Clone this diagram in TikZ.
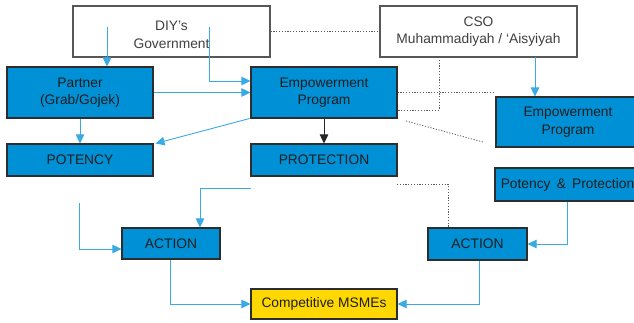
\documentclass[tikz,border=0pt]{standalone}
\usepackage{fontspec}
\setmainfont{Liberation Sans}
\usetikzlibrary{arrows.meta}
\definecolor{boxblue}{RGB}{0,144,214}
\definecolor{lineblue}{RGB}{58,170,228}
\definecolor{boxyellow}{RGB}{255,216,0}
\definecolor{edgegray}{RGB}{45,45,45}
\definecolor{txt}{RGB}{30,30,30}
\definecolor{dotgray}{RGB}{90,90,90}
\tikzset{
  base/.style={draw=edgegray, line width=1.1pt, inner sep=0pt, align=center,
    text=txt, font=\fontsize{13.8}{17.5}\selectfont},
  whitebox/.style={base, fill=white, draw=edgegray!80, text=txt!85},
  bluebox/.style={base, fill=boxblue},
  yellowbox/.style={base, fill=boxyellow},
  barrow/.style={draw=lineblue, line width=0.9pt, -{Triangle[length=9pt,width=8.5pt]}},
  karrow/.style={draw=black!85, line width=0.9pt, -{Triangle[length=9pt,width=8.5pt]}},
  dotline/.style={draw=dotgray, line width=0.8pt, dash pattern=on 1.2pt off 1.6pt}
}
\begin{document}
\begin{tikzpicture}[x=1pt,y=-1pt]
\useasboundingbox (0,0) rectangle (634,322);
\clip (0,0) rectangle (634,322);
% nodes
\node[whitebox, minimum width=197pt, minimum height=51pt] (gov) at (171.5,31.5) {\rule{0pt}{16pt}DIY’s\\Government};
\node[whitebox, minimum width=197pt, minimum height=51pt] (cso) at (478.5,31.5) {CSO\\Muhammadiyah / ‘Aisyiyah};
\node[bluebox, minimum width=146pt, minimum height=51pt] (partner) at (80,92.5) {Partner\\(Grab/Gojek)};
\node[bluebox, minimum width=146pt, minimum height=51pt] (emp) at (324,92.5) {Empowerment\\Program};
\node[bluebox, minimum width=146pt, minimum height=32pt] (potency) at (80,160) {POTENCY};
\node[bluebox, minimum width=146pt, minimum height=32pt] (protection) at (324,160) {PROTECTION};
\node[bluebox, minimum width=144pt, minimum height=50pt] (empr) at (568,122) {Empowerment\\Program};
\node[bluebox, minimum width=145pt, minimum height=33pt] (pp) at (567.5,184.5) {Potency \,\&\, Protection};
\node[bluebox, minimum width=98pt, minimum height=31pt] (actl) at (171,243.5) {ACTION};
\node[bluebox, minimum width=99pt, minimum height=32pt] (actr) at (477.5,244) {ACTION};
\node[yellowbox, minimum width=146pt, minimum height=30pt] (msme) at (324,304) {Competitive MSMEs};
% free-end coordinates
\coordinate (g1) at (107,27);
\coordinate (g2) at (209,27);
\coordinate (c1) at (535,57);
\coordinate (c2) at (439,57);
\coordinate (d1) at (406,121);
\coordinate (d2) at (483,142);
\coordinate (p1) at (397,184);
\coordinate (b1) at (251,188);
\coordinate (b2) at (79,203);
% connectors
\draw[barrow] (g1) -- (g1 |- partner.north);
\draw[barrow] (g2) |- ([yshift=11.5pt]emp.west);
\draw[barrow] (partner.east) -- (emp.west);
\draw[barrow] (partner.south) -- (potency.north);
\draw[barrow] ([xshift=-1pt]emp.south west) -- ([xshift=2pt]potency.north east);
\draw[karrow] (emp.south) -- (protection.north);
\draw[dotline] (gov.east) -- (cso.west);
\draw[barrow] (c1) -- (c1 |- empr.north);
\draw[dotline] (c2) |- ([yshift=-17.5pt]emp.east);
\draw[dotline] ([yshift=0.5pt]emp.east) -- ([yshift=0.5pt]emp.east -| empr.west);
\draw[dotline] (d1) -- (d2);
\draw[dotline] (p1) -| ([xshift=-29.5pt]actr.north);
\draw[barrow] (b1) -| ([xshift=29pt]actl.north);
\draw[barrow] (b2) |- ([yshift=-5.5pt]actl.west);
\draw[barrow] ([xshift=-1pt]actl.south) |- (msme.west);
\draw[barrow] (pp.south) |- (actr.east);
\draw[barrow] ([xshift=1.5pt]actr.south) |- (msme.east);
\end{tikzpicture}
\end{document}
